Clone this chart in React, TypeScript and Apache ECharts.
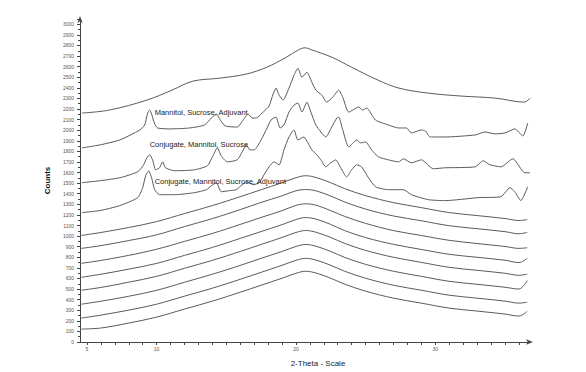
import React, { useEffect, useRef } from "react";
import * as echarts from "echarts";

// ---- data (2-theta in degrees, counts) ----
const topTheta = [4.64, 6.6, 9.3, 11.1, 12.6, 14.5, 16.4, 17.9, 19.3, 20.2, 20.65, 21.1, 22.6, 24.0, 25.9, 27.4, 29.5, 31.9, 34.3, 36.4, 36.8];
const topCounts = [2162, 2190, 2284, 2378, 2463, 2491, 2529, 2594, 2688, 2760, 2778, 2760, 2688, 2594, 2472, 2397, 2350, 2322, 2303, 2265, 2303];

const msaTheta = [4.64, 5.93, 7.36, 8.79, 9.14, 9.36, 9.5, 9.64, 9.86, 10.07, 10.93, 12.36, 13.43, 13.93, 14.29, 14.57, 14.93, 15.79, 16.21, 16.57, 16.86, 17.14, 17.57, 18.07, 18.36, 18.57, 18.79, 19.07, 19.5, 19.86, 20.14, 20.43, 20.79, 21.14, 21.43, 21.86, 22.21, 22.64, 23.07, 23.36, 23.79, 24.5, 24.79, 25.07, 25.71, 26.64, 27.36, 27.93, 28.29, 29.0, 29.29, 29.64, 30.71, 32.86, 33.57, 34.29, 35.0, 35.71, 36.29, 36.64];
const msaCounts = [1833, 1861, 1908, 2002, 2049, 2162, 2190, 2153, 2059, 2021, 2012, 2021, 2049, 2115, 2153, 2096, 2040, 2030, 2096, 2153, 2115, 2115, 2162, 2228, 2341, 2397, 2331, 2284, 2397, 2519, 2585, 2500, 2547, 2453, 2378, 2331, 2265, 2312, 2378, 2312, 2171, 2218, 2190, 2209, 2096, 2049, 2021, 2021, 1974, 2002, 1993, 1936, 1936, 1955, 1983, 1965, 1974, 2012, 1946, 2068];

const cmsTheta = [4.64, 5.93, 7.36, 8.64, 9.07, 9.29, 9.5, 9.71, 9.93, 10.21, 10.43, 10.64, 11.29, 12.71, 13.64, 14.0, 14.36, 14.64, 15.07, 15.79, 16.14, 16.43, 16.71, 17.0, 17.5, 17.93, 18.21, 18.57, 18.86, 19.14, 19.5, 19.86, 20.14, 20.43, 20.79, 21.07, 21.43, 21.79, 22.14, 22.57, 22.93, 23.07, 23.36, 23.79, 24.36, 24.64, 25.0, 25.43, 25.93, 26.64, 27.36, 27.71, 28.29, 29.0, 29.86, 30.71, 32.86, 33.43, 33.93, 34.71, 35.57, 36.43, 36.79];
const cmsCounts = [1504, 1523, 1551, 1607, 1673, 1739, 1767, 1720, 1626, 1645, 1701, 1645, 1617, 1626, 1664, 1748, 1833, 1758, 1701, 1720, 1795, 1861, 1814, 1814, 1908, 2021, 2096, 2124, 2021, 2049, 2171, 2237, 2256, 2171, 2265, 2171, 2049, 1983, 1936, 2030, 2115, 2124, 2002, 1842, 1908, 1880, 1889, 1814, 1748, 1720, 1701, 1730, 1692, 1720, 1636, 1645, 1654, 1711, 1673, 1654, 1730, 1598, 1598];

const cmsaTheta = [4.64, 5.93, 7.36, 8.64, 9.0, 9.21, 9.43, 9.64, 9.86, 10.21, 11.29, 12.71, 13.57, 13.93, 14.29, 14.64, 15.21, 15.71, 16.14, 16.5, 16.93, 17.36, 17.71, 18.07, 18.43, 18.79, 19.14, 19.5, 19.86, 20.14, 20.57, 20.86, 21.14, 21.5, 21.79, 22.14, 22.5, 22.86, 23.21, 23.64, 24.0, 24.36, 24.71, 25.21, 25.71, 26.64, 27.14, 27.71, 28.29, 29.5, 30.71, 33.07, 34.71, 35.36, 35.71, 36.14, 36.64];
const cmsaCounts = [1222, 1241, 1288, 1363, 1457, 1570, 1617, 1551, 1438, 1391, 1391, 1410, 1438, 1476, 1504, 1419, 1429, 1438, 1485, 1513, 1485, 1504, 1579, 1654, 1701, 1673, 1814, 1936, 2002, 1908, 1936, 1880, 1814, 1767, 1720, 1654, 1692, 1720, 1645, 1560, 1626, 1673, 1654, 1551, 1466, 1438, 1438, 1438, 1391, 1344, 1335, 1363, 1372, 1457, 1419, 1335, 1466];

const amorphTheta = [4.6, 6, 8, 10, 12, 14, 16, 17.5, 19, 20, 20.7, 21.5, 22.5, 23.5, 25, 27, 29, 31, 33, 35, 36, 36.6];
const amorph1 = [1006, 1034, 1081, 1137, 1213, 1288, 1372, 1438, 1504, 1551, 1570, 1551, 1504, 1448, 1382, 1316, 1269, 1222, 1194, 1166, 1147, 1156];
const amorph2 = [884, 910, 958, 1012, 1090, 1165, 1250, 1318, 1380, 1428, 1440, 1425, 1378, 1322, 1255, 1190, 1145, 1098, 1070, 1042, 1022, 1035];
const amorph3 = [743, 770, 818, 876, 950, 1025, 1110, 1176, 1240, 1290, 1305, 1290, 1240, 1186, 1120, 1052, 1006, 960, 930, 902, 884, 890];
const amorph4 = [611, 640, 688, 742, 818, 893, 978, 1043, 1108, 1156, 1175, 1158, 1110, 1052, 986, 922, 874, 828, 800, 772, 750, 790];
const amorph5 = [489, 515, 565, 620, 696, 771, 855, 921, 987, 1034, 1053, 1034, 987, 931, 865, 800, 752, 705, 677, 649, 630, 640];
const amorph6 = [357, 385, 432, 488, 564, 640, 723, 790, 855, 902, 921, 902, 855, 799, 733, 668, 620, 573, 545, 517, 500, 580];
const amorph7 = [226, 254, 301, 357, 433, 508, 592, 658, 724, 771, 790, 771, 724, 668, 602, 536, 489, 442, 414, 386, 367, 376];
const amorph8 = [122, 132, 179, 235, 311, 386, 470, 536, 602, 649, 668, 649, 602, 546, 480, 414, 367, 320, 292, 264, 245, 290];

const xTickValues = [5, 6, 7, 8, 9, 10, 11, 12, 13, 14, 15, 16, 17, 18, 19, 20, 21, 22, 23, 24, 25, 26, 27, 28, 29, 30, 31, 32, 33, 34, 35, 36];
const xLabelValues = [5, 10, 20, 30];

const labelMSA = "Mannitol, Sucrose, Adjuvant";
const labelCMS = "Conjugate, Mannitol, Sucrose";
const labelCMSA = "Conjugate, Mannitol, Sucrose, Adjuvant";
const labelMSAPos = [9.86, 2171];
const labelCMSPos = [9.5, 1861];
const labelCMSAPos = [9.86, 1513];

const FONT = "Liberation Sans";
const LINE = "#5a5a5a";

function pairs(xs: number[], ys: number[]) {
  return xs.map((x, i) => [x, ys[i]]);
}

function mark(text: string, coord: number[]) {
  return {
    silent: true,
    symbol: "circle",
    symbolSize: 0,
    itemStyle: { color: "transparent" },
    data: [
      {
        coord,
        label: {
          show: true,
          position: "right",
          distance: 0,
          formatter: text,
          color: "#222",
          fontSize: 7.5,
          fontFamily: FONT,
          textBorderWidth: 0,
          textBorderColor: "transparent",
          textShadowBlur: 0,
        },
      },
    ],
  };
}

export default function App() {
  const ref = useRef<HTMLDivElement>(null);
  useEffect(() => {
    if (!ref.current) return;
    const chart = echarts.init(ref.current, undefined, { renderer: "svg" });
    const base = (data: number[][], extra: any = {}) => ({
      type: "line",
      data,
      showSymbol: false,
      symbol: "none",
      smooth: 0.25,
      lineStyle: { color: LINE, width: 1 },
      silent: true,
      ...extra,
    });
    const amorphs = [amorph1, amorph2, amorph3, amorph4, amorph5, amorph6, amorph7, amorph8];
    chart.setOption({
      animation: false,
      backgroundColor: "#ffffff",
      grid: { left: 80, right: 56, top: 19, bottom: 29 },
      xAxis: {
        type: "value",
        min: 4.5,
        max: 36.8,
        name: "2-Theta - Scale",
        nameLocation: "middle",
        nameGap: 17,
        nameTextStyle: { fontFamily: FONT, fontSize: 8, color: "#222", padding: [0, 0, 0, 26] },
        splitLine: { show: false },
        axisLine: { lineStyle: { color: "#444", width: 1 }, symbol: ["none", "arrow"], symbolSize: [4, 7], symbolOffset: [0, 3] },
        axisTick: { show: true, length: 3, inside: false, customValues: xTickValues, lineStyle: { color: "#444" } },
        axisLabel: { customValues: xLabelValues, fontSize: 5, color: "#555", fontFamily: FONT, margin: 4 },
      },
      yAxis: {
        type: "value",
        min: 0,
        max: 3050,
        interval: 100,
        name: "Counts",
        nameLocation: "middle",
        nameGap: 20,
        nameTextStyle: { fontFamily: FONT, fontSize: 8, color: "#111", fontWeight: "bold" },
        splitLine: { show: false },
        axisLine: { show: true, lineStyle: { color: "#444", width: 1 }, symbol: ["none", "arrow"], symbolSize: [4, 7], symbolOffset: [0, 3] },
        axisTick: { show: true, length: 3, lineStyle: { color: "#444" } },
        minorTick: { show: true, splitNumber: 2, length: 2, lineStyle: { color: "#444" } },
        axisLabel: {
          fontSize: 5,
          color: "#555",
          fontFamily: FONT,
          margin: 6,
          formatter: (v: number) => (v % 100 === 0 && v <= 3000 ? String(v) : ""),
        },
      },
      series: [
        base(pairs(topTheta, topCounts), { smooth: 0.35 }),
        base(pairs(msaTheta, msaCounts), { smooth: 0.2, markPoint: mark(labelMSA, labelMSAPos) }),
        base(pairs(cmsTheta, cmsCounts), { smooth: 0.2, markPoint: mark(labelCMS, labelCMSPos) }),
        base(pairs(cmsaTheta, cmsaCounts), { smooth: 0.2, markPoint: mark(labelCMSA, labelCMSAPos) }),
        ...amorphs.map((a) => base(pairs(amorphTheta, a), { smooth: 0.35 })),
      ],
    });
    return () => chart.dispose();
  }, []);
  return (
    <div
      ref={ref}
      style={{ position: "fixed", left: 0, top: 0, width: 586, height: 372, background: "#fff" }}
    />
  );
}
